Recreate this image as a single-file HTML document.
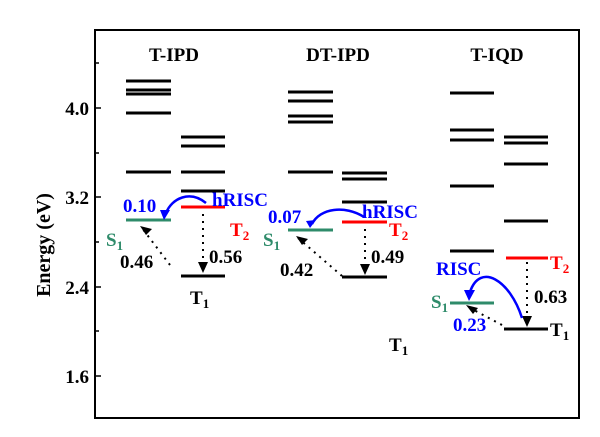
<!DOCTYPE html><html><head><style>body{margin:0;background:#fff}svg{display:block}text{font-family:"Liberation Serif",serif;font-weight:bold}</style></head><body>
<svg width="600" height="437" viewBox="0 0 600 437">
<rect x="95" y="30" width="484" height="388" fill="none" stroke="#000" stroke-width="2"/>
<g stroke="#000" stroke-width="1.5">
<line x1="95" y1="63" x2="99" y2="63"/><line x1="95" y1="108" x2="101" y2="108"/><line x1="95" y1="153" x2="99" y2="153"/><line x1="95" y1="197" x2="101" y2="197"/><line x1="95" y1="242" x2="99" y2="242"/><line x1="95" y1="287" x2="101" y2="287"/><line x1="95" y1="331" x2="99" y2="331"/><line x1="95" y1="376" x2="101" y2="376"/>
</g>
<g font-size="19" text-anchor="end"><text x="89" y="115">4.0</text><text x="89" y="204">3.2</text><text x="89" y="294">2.4</text><text x="89" y="383">1.6</text></g>
<text transform="translate(50,245) rotate(-90)" font-size="20" text-anchor="middle">Energy (eV)</text>
<g font-size="19" text-anchor="middle"><text x="174" y="61">T-IPD</text><text x="338" y="61">DT-IPD</text><text x="497" y="61">T-IQD</text></g>
<g stroke="#000" stroke-width="3">
<path d="M126 81H171M126 90H171M126 94H171M126 113H171M126 172H171"/>
<path d="M181 137H225M181 146H225M181 172H225M181 191H225M181 276H225"/>
<path d="M288 92H333M288 101H333M288 116H333M288 122H333M288 172H333"/>
<path d="M342 173H387M342 179H387M342 202H387M342 277H387"/>
<path d="M450 93H494M450 130H494M450 140H494M450 186H494M450 251H494"/>
<path d="M504 137H548M504 143H548M504 164H548M504 221H548M504 329H548"/>
</g>
<g stroke="#2e8b6a" stroke-width="3"><path d="M126 220H171M288 230H333M450 303H494"/></g>
<g stroke="#f00" stroke-width="3"><path d="M181 207H225M342 222H387M506 258H548"/></g>
<g stroke="#000" stroke-width="2" stroke-dasharray="2 5" fill="none">
<path d="M170 265L142 228"/><path d="M203 214V266"/>
<path d="M342 276L298 238"/><path d="M365 229V266"/>
<path d="M502 325L470 308"/><path d="M527 262V318"/>
</g>
<g fill="#000"><path d="M140 226l12 3-6 6z"/><path d="M198 262h10l-5 11z"/><path d="M296 236l12 3-6 6z"/><path d="M360 264h10l-5 11z"/><path d="M466 305l12 3-5 6z"/><path d="M522 316h10l-5 11z"/></g>
<g stroke="#0000ff" stroke-width="2.5" fill="none">
<path d="M206 203C190 190 172 198 166 213"/>
<path d="M364 217C345 205 320 208 312 224"/>
<path d="M522 318C510 280 480 262 470 292"/>
</g>
<g fill="#0000ff"><path d="M160 210h10l-6 10z"/><path d="M306 221l10-1-6 8z"/><path d="M464 290h11l-6 11z"/></g>
<g font-size="19" fill="#0000ff"><text x="123" y="212">0.10</text><text x="212" y="206">hRISC</text><text x="268" y="223">0.07</text><text x="362" y="218">hRISC</text><text x="436" y="275">RISC</text><text x="453" y="331">0.23</text></g>
<g font-size="19" fill="#f00"><text x="230" y="236">T<tspan font-size="13" dy="4">2</tspan></text><text x="389" y="236">T<tspan font-size="13" dy="4">2</tspan></text><text x="550" y="269">T<tspan font-size="13" dy="4">2</tspan></text></g>
<g font-size="19" fill="#2e8b6a"><text x="106" y="246">S<tspan font-size="13" dy="4">1</tspan></text><text x="263" y="246">S<tspan font-size="13" dy="4">1</tspan></text><text x="431" y="308">S<tspan font-size="13" dy="4">1</tspan></text></g>
<g font-size="19"><text x="120" y="268">0.46</text><text x="209" y="263">0.56</text><text x="280" y="276">0.42</text><text x="371" y="263">0.49</text><text x="534" y="303">0.63</text>
<text x="190" y="304">T<tspan font-size="13" dy="4">1</tspan></text><text x="389" y="351">T<tspan font-size="13" dy="4">1</tspan></text><text x="550" y="336">T<tspan font-size="13" dy="4">1</tspan></text></g>
</svg></body></html>
